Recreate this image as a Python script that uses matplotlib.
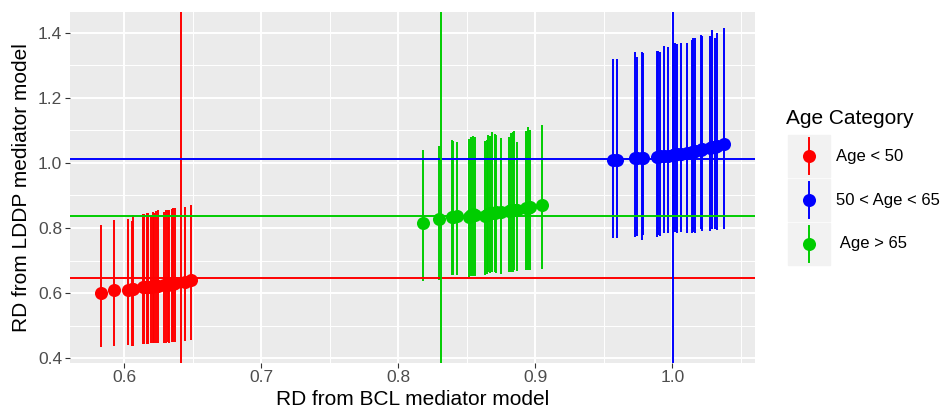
import numpy as np
import matplotlib
matplotlib.use('Agg')
import matplotlib.pyplot as plt
from matplotlib.lines import Line2D
from matplotlib.patches import Rectangle

plt.rcParams['font.family'] = ['Liberation Sans', 'DejaVu Sans']

# RD estimates per age group: BCL mediator model (x) vs LDDP mediator model (y),
# with the LDDP interval (lo, hi) for every run
red_x = [0.5832, 0.5929, 0.6031, 0.6055, 0.6067, 0.6135, 0.6147, 0.6164, 0.6176, 0.6194, 0.6208, 0.6218,
         0.6232, 0.6249, 0.6291, 0.6305, 0.6317, 0.6329, 0.6347, 0.6358, 0.6371, 0.6444, 0.6487]
red_y = [0.601, 0.609, 0.611, 0.613, 0.612, 0.618, 0.619, 0.619, 0.620, 0.620, 0.621, 0.622,
         0.622, 0.623, 0.625, 0.626, 0.626, 0.627, 0.628, 0.629, 0.630, 0.634, 0.639]
red_hi = [0.810, 0.825, 0.828, 0.823, 0.840, 0.843, 0.843, 0.846, 0.846, 0.840, 0.849, 0.846,
          0.851, 0.854, 0.849, 0.856, 0.854, 0.854, 0.859, 0.861, 0.861, 0.866, 0.871]
red_lo = [0.435, 0.438, 0.440, 0.438, 0.436, 0.445, 0.443, 0.445, 0.445, 0.446, 0.446, 0.448,
          0.448, 0.448, 0.448, 0.448, 0.450, 0.448, 0.450, 0.450, 0.451, 0.453, 0.455]

blue_x = [0.9569, 0.9594, 0.9727, 0.9739, 0.9776, 0.9788, 0.9885, 0.9897, 0.9909, 0.9940, 0.9965, 1.0006, 1.0018,
          1.0031, 1.0062, 1.0103, 1.0140, 1.0151, 1.0164, 1.0208, 1.0217, 1.0273, 1.0286, 1.0310, 1.0322, 1.0375]
blue_y = [1.009, 1.009, 1.015, 1.015, 1.016, 1.015, 1.019, 1.019, 1.020, 1.021, 1.022, 1.025, 1.026,
          1.026, 1.028, 1.031, 1.034, 1.035, 1.036, 1.041, 1.042, 1.047, 1.048, 1.050, 1.051, 1.058]
blue_hi = [1.319, 1.319, 1.340, 1.325, 1.340, 1.337, 1.345, 1.345, 1.342, 1.359, 1.355, 1.373, 1.370,
           1.366, 1.368, 1.370, 1.378, 1.383, 1.383, 1.394, 1.390, 1.389, 1.408, 1.383, 1.398, 1.414]
blue_lo = [0.768, 0.768, 0.773, 0.775, 0.763, 0.779, 0.773, 0.779, 0.775, 0.784, 0.784, 0.784, 0.789,
           0.786, 0.789, 0.784, 0.784, 0.789, 0.784, 0.796, 0.792, 0.792, 0.796, 0.796, 0.794, 0.796]

green_x = [0.8183, 0.8295, 0.8390, 0.8397, 0.8430, 0.8519, 0.8530, 0.8547, 0.8559, 0.8632, 0.8645, 0.8656, 0.8667,
           0.8687, 0.8703, 0.8716, 0.8749, 0.8809, 0.8822, 0.8834, 0.8843, 0.8863, 0.8929, 0.8943, 0.8960, 0.9045]
green_y = [0.815, 0.827, 0.833, 0.834, 0.836, 0.835, 0.840, 0.843, 0.841, 0.837, 0.840, 0.843, 0.845,
           0.847, 0.846, 0.848, 0.849, 0.853, 0.854, 0.855, 0.856, 0.855, 0.861, 0.863, 0.864, 0.870]
green_hi = [1.039, 1.053, 1.070, 1.068, 1.065, 1.075, 1.080, 1.083, 1.080, 1.067, 1.070, 1.086, 1.084,
            1.096, 1.088, 1.086, 1.077, 1.080, 1.091, 1.096, 1.098, 1.064, 1.098, 1.111, 1.101, 1.117]
green_lo = [0.637, 0.640, 0.656, 0.655, 0.656, 0.649, 0.651, 0.654, 0.654, 0.656, 0.659, 0.664, 0.661,
            0.664, 0.664, 0.662, 0.659, 0.664, 0.664, 0.666, 0.670, 0.668, 0.670, 0.672, 0.670, 0.673]

# group means shown as reference lines
mean_x = [0.6415, 1.0005, 0.831]
mean_y = [0.6456, 1.013, 0.836]

categories = ['Age < 50', '50 < Age < 65', ' Age > 65']
colors = ['#FF0000', '#0000FF', '#00CD00']

x_ticks = [0.6, 0.7, 0.8, 0.9, 1.0]
y_ticks = [0.4, 0.6, 0.8, 1.0, 1.2, 1.4]

groups = [(red_x, red_y, red_lo, red_hi),
          (blue_x, blue_y, blue_lo, blue_hi),
          (green_x, green_y, green_lo, green_hi)]


def expand(lo, hi, mult=0.05):
    pad = (hi - lo) * mult
    return lo - pad, hi + pad


W, H = 945, 412
fig = plt.figure(figsize=(W / 100, H / 100), dpi=100)
ax = fig.add_axes([70 / W, 1 - 362.7 / H, 685 / W, 350.4 / H])
ax.set_facecolor('#EBEBEB')
for s in ax.spines.values():
    s.set_visible(False)

for (gx, gy, glo, ghi), c in zip(groups, colors):
    ax.vlines(gx, glo, ghi, color=c, lw=1.4, zorder=3)
    ax.plot(gx, gy, 'o', color=c, ms=9.4, mec='none', zorder=4)

for mx, my, c in zip(mean_x, mean_y, colors):
    ax.axvline(mx, color=c, lw=1.4, zorder=5)
    ax.axhline(my, color=c, lw=1.4, zorder=5)

ax.set_xticks(x_ticks)
ax.set_xticklabels(['{:.1f}'.format(t) for t in x_ticks])
ax.set_yticks(y_ticks)
ax.set_yticklabels(['{:.1f}'.format(t) for t in y_ticks])
ax.set_xticks([t + 0.05 for t in [0.5] + x_ticks], minor=True)
ax.set_yticks([t + 0.1 for t in y_ticks[:-1]], minor=True)

# limits last, so the minor ticks don't stretch them
all_x = np.concatenate([g[0] for g in groups])
all_lo = np.concatenate([g[2] for g in groups])
all_hi = np.concatenate([g[3] for g in groups])
ax.set_xlim(*expand(all_x.min(), all_x.max()))
ax.set_ylim(*expand(all_lo.min(), all_hi.max()))

ax.grid(which='major', color='white', lw=1.4, zorder=0)
ax.grid(which='minor', color='white', lw=0.7, zorder=0)
ax.set_axisbelow(True)
ax.tick_params(which='major', length=3.6, width=0.8, color='#333333',
               labelsize=12.5, labelcolor='#4D4D4D', pad=2)
ax.tick_params(which='minor', length=0)

ax.set_xlabel('RD from BCL mediator model', fontsize=15, labelpad=3)
ax.set_ylabel('RD from LDDP mediator model', fontsize=15, labelpad=5)

# legend drawn in figure pixels
def fx(px):
    return px / W


def fy(py):
    return 1 - py / H


fig.text(fx(786), fy(118), 'Age Category', fontsize=15, va='center', ha='left')
for i, (lab, c) in enumerate(zip(categories, colors)):
    top = 135 + i * 44
    cy = top + 21
    fig.patches.append(Rectangle((fx(788), fy(top + 42)), 42 / W, 42 / H,
                                 transform=fig.transFigure, color='#F2F2F2', zorder=1))
    fig.lines.append(Line2D([fx(809), fx(809)], [fy(cy - 18), fy(cy + 18)],
                            transform=fig.transFigure, color=c, lw=1.4, zorder=2))
    fig.lines.append(Line2D([fx(809)], [fy(cy)], transform=fig.transFigure, marker='o',
                            color=c, ms=9.4, mec='none', zorder=3))
    fig.text(fx(836), fy(cy), lab, fontsize=12, va='center', ha='left')

fig.savefig('out.png', dpi=100)
